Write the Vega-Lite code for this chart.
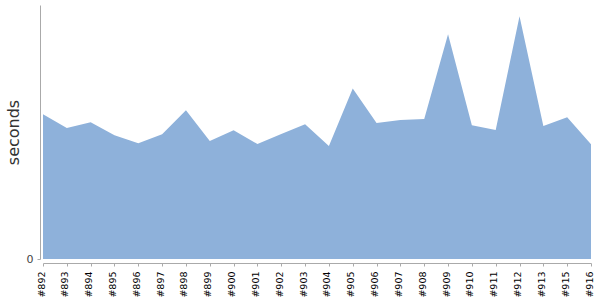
{
  "$schema": "https://vega.github.io/schema/vega-lite/v6.json",
  "autosize": "none",
  "padding": {"left": 43, "top": 5, "right": 9, "bottom": 41},
  "width": 548,
  "height": 254,
  "background": "white",
  "config": {"view": {"stroke": null}},
  "data": {"values": [
    {"build": "#892", "seconds": 144.7},
    {"build": "#893", "seconds": 131},
    {"build": "#894", "seconds": 136.7},
    {"build": "#895", "seconds": 123.7},
    {"build": "#896", "seconds": 115.7},
    {"build": "#897", "seconds": 124.7},
    {"build": "#898", "seconds": 148.7},
    {"build": "#899", "seconds": 118},
    {"build": "#900", "seconds": 128.7},
    {"build": "#901", "seconds": 115},
    {"build": "#902", "seconds": 125},
    {"build": "#903", "seconds": 134.7},
    {"build": "#904", "seconds": 113},
    {"build": "#905", "seconds": 170.4},
    {"build": "#906", "seconds": 136},
    {"build": "#907", "seconds": 139},
    {"build": "#908", "seconds": 140},
    {"build": "#909", "seconds": 224.7},
    {"build": "#910", "seconds": 133.7},
    {"build": "#911", "seconds": 129},
    {"build": "#912", "seconds": 242.7},
    {"build": "#913", "seconds": 133},
    {"build": "#915", "seconds": 141.7},
    {"build": "#916", "seconds": 114.7}
  ]},
  "mark": {"type": "area", "color": "#8eb1da", "opacity": 1},
  "encoding": {
    "x": {
      "field": "build", "type": "ordinal", "sort": null,
      "scale": {"type": "point", "padding": 0},
      "axis": {
        "title": null, "labelAngle": -90, "labelAlign": "right", "labelBaseline": "middle",
        "labelOffset": -2, "offset": 4, "tickSize": 3, "labelPadding": 5,
        "domainColor": "#aaaaaa", "tickColor": "#aaaaaa",
        "labelFont": "DejaVu Sans", "labelFontSize": 9.5, "labelColor": "#000000"
      }
    },
    "y": {
      "field": "seconds", "type": "quantitative",
      "scale": {"domain": [0, 254], "nice": false, "zero": true},
      "axis": {
        "values": [0], "grid": false, "offset": 3, "tickSize": 3, "labelPadding": 4,
        "domainColor": "#aaaaaa", "tickColor": "#aaaaaa",
        "labelFont": "DejaVu Sans", "labelFontSize": 11, "labelColor": "#444444",
        "title": "seconds", "titleFont": "DejaVu Sans", "titleFontSize": 16,
        "titleFontWeight": "normal", "titleColor": "#333333", "titlePadding": 5
      }
    }
  }
}
